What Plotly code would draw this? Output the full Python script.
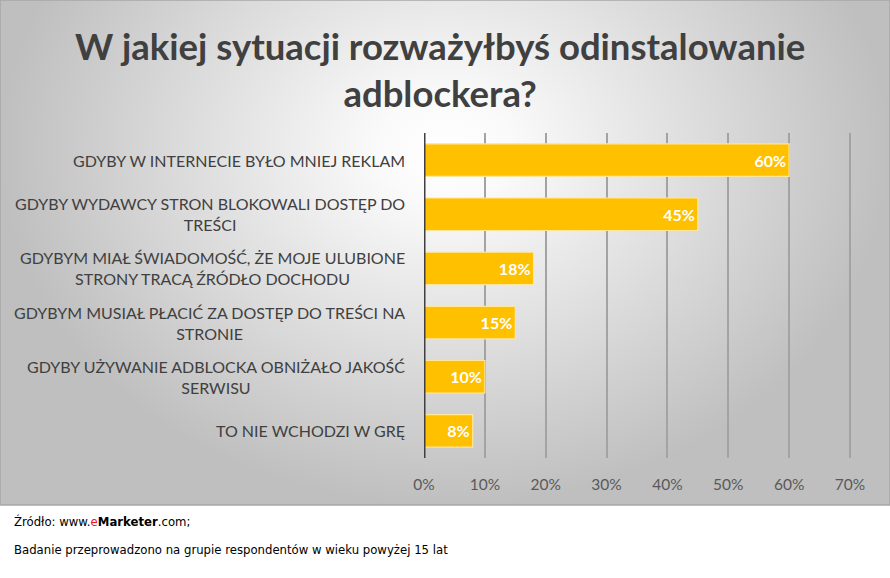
import plotly.graph_objects as go

categories = [
    "GDYBY W INTERNECIE BYŁO MNIEJ REKLAM",
    "GDYBY WYDAWCY STRON BLOKOWALI DOSTĘP DO<br>TREŚCI",
    "GDYBYM MIAŁ ŚWIADOMOŚĆ, ŻE MOJE ULUBIONE<br>STRONY TRACĄ ŹRÓDŁO DOCHODU",
    "GDYBYM MUSIAŁ PŁACIĆ ZA DOSTĘP DO TREŚCI NA<br>STRONIE",
    "GDYBY UŻYWANIE ADBLOCKA OBNIŻAŁO JAKOŚĆ<br>SERWISU",
    "TO NIE WCHODZI W GRĘ",
]
values = [0.60, 0.45, 0.18, 0.15, 0.10, 0.08]
value_labels = ["60%", "45%", "18%", "15%", "10%", "8%"]
ids = ["c%d" % i for i in range(len(categories))]

title_text = "W jakiej sytuacji rozważyłbyś odinstalowanie<br>adblockera?"
source_text = "Źródło: www.<span style='color:#e8141b'>e</span><b>Marketer</b>.com;"
note_text = "Badanie przeprowadzono na grupie respondentów w wieku powyżej 15 lat"

W, H = 890, 578
GRAY_H = 505
GRAD_CY = 150  # px from top of the radial highlight centre

px_x = lambda p: p / W
px_y = lambda p: 1 - p / H

y_bottom = px_y(GRAY_H)
y_top = px_y(GRAD_CY - (GRAY_H - GRAD_CY))
fig = go.Figure()
fig.add_trace(go.Scatter(
    x=[0, 1, 1, 0, 0], y=[y_bottom, y_bottom, y_top, y_top, y_bottom],
    xaxis="x", yaxis="y", mode="lines", line=dict(width=0), fill="toself",
    fillgradient=dict(type="radial", colorscale=[[0, "#ffffff"], [0.15, "#fafafa"], [1, "#bfbfbf"]]),
    hoverinfo="skip", showlegend=False,
))

fig.add_trace(go.Bar(
    y=ids, x=values, orientation="h", xaxis="x2", yaxis="y2",
    marker=dict(color="#FFC000", line=dict(color="#FFE699", width=1.2)),
    text=value_labels, textposition="inside", insidetextanchor="end",
    textfont=dict(family="Lato", size=16, color="white", weight="bold"),
    hoverinfo="skip", width=0.6, showlegend=False,
))

annotations = []
for cid, lab in zip(ids, categories):
    annotations.append(dict(
        x=px_x(407), xref="paper", y=cid, yref="y2", xanchor="right", yanchor="middle",
        text=lab, align="center", showarrow=False,
        font=dict(family="Lato", size=16, color="#404040"),
    ))
annotations.append(dict(x=px_x(12), y=px_y(521), xref="paper", yref="paper", xanchor="left",
                        yanchor="middle", text=source_text, showarrow=False, align="left",
                        font=dict(family="DejaVu Sans", size=11.7, color="#000000")))
annotations.append(dict(x=px_x(12), y=px_y(550), xref="paper", yref="paper", xanchor="left",
                        yanchor="middle", text=note_text, showarrow=False, align="left",
                        font=dict(family="DejaVu Sans", size=11.7, color="#000000")))
annotations.append(dict(x=px_x(440), y=px_y(70), xref="paper", yref="paper", xanchor="center",
                        yanchor="middle", text=title_text, showarrow=False, align="center",
                        font=dict(family="Lato", size=36.5, color="#404040", weight="bold")))

fig.update_layout(
    width=W, height=H, autosize=False,
    margin=dict(l=0, r=0, t=0, b=0, pad=0, autoexpand=False),
    paper_bgcolor="white", plot_bgcolor="rgba(0,0,0,0)",
    showlegend=False,
    xaxis=dict(domain=[0, 1], range=[0, 1], visible=False, fixedrange=True, automargin=False),
    yaxis=dict(domain=[0, 1], range=[0, 1], visible=False, fixedrange=True, automargin=False),
    xaxis2=dict(domain=[px_x(424), px_x(853)], range=[0, 0.705], dtick=0.1, tick0=0,
                anchor="y2", tickformat=".0%", showgrid=True, gridcolor="#a3a3a3", gridwidth=2,
                zeroline=False, showline=False, ticks="outside", ticklen=12, automargin=False,
                tickcolor="rgba(0,0,0,0)", tickfont=dict(family="Lato", size=15.5, color="#595959"),
                fixedrange=True),
    yaxis2=dict(domain=[px_y(458), px_y(133)], anchor="x2", categoryorder="array",
                categoryarray=ids, autorange="reversed", showticklabels=False, showgrid=False,
                zeroline=False, showline=False, fixedrange=True, automargin=False),
    annotations=annotations,
    bargap=0.4,
)
fig.add_shape(type="line", xref="x2", yref="paper", x0=0, x1=0, y0=px_y(458), y1=px_y(133),
              line=dict(color="#404040", width=3), layer="above")
fig.add_shape(type="rect", xref="paper", yref="paper", x0=0, x1=1, y0=px_y(GRAY_H), y1=1,
              line=dict(color="#a8a8a8", width=1.5), fillcolor="rgba(0,0,0,0)", layer="above")

fig.write_html("out.html")
